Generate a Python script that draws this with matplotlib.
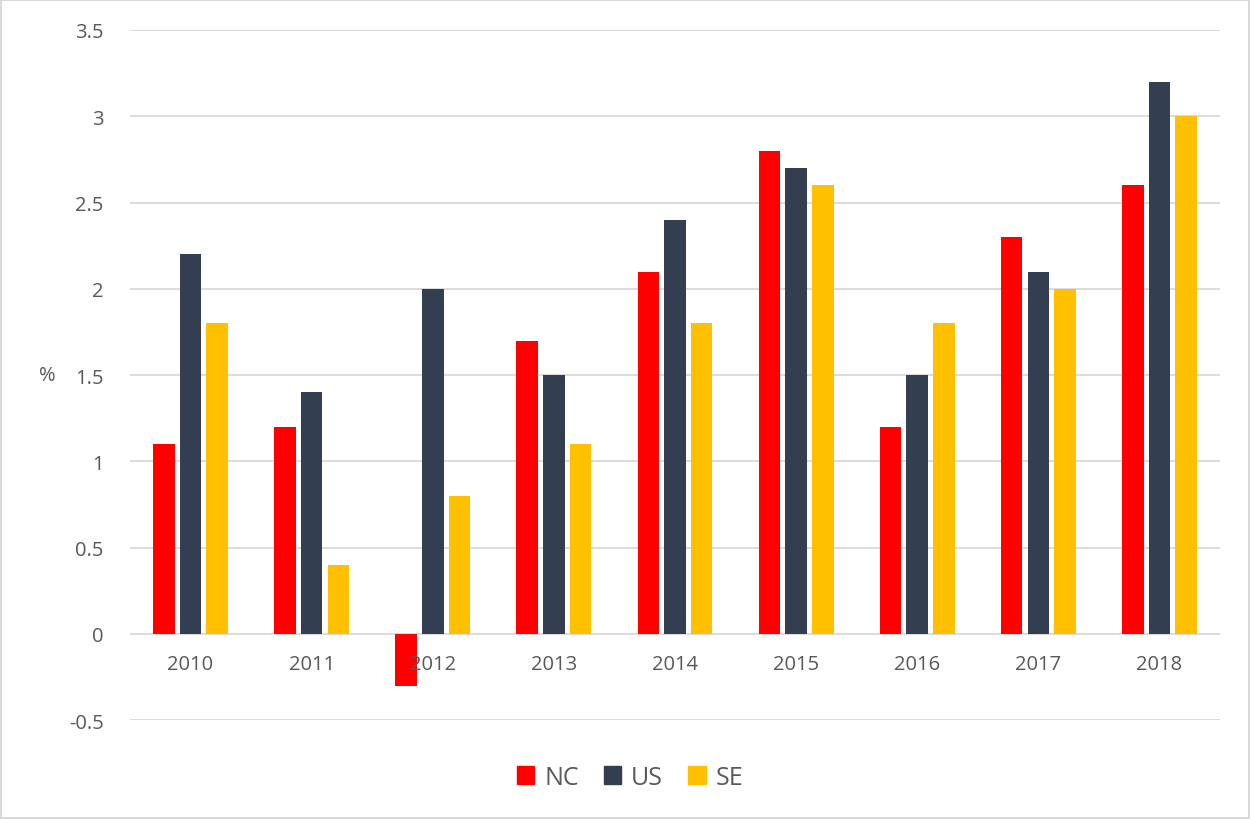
import numpy as np
import matplotlib.pyplot as plt
from matplotlib.patches import Rectangle
from matplotlib.transforms import offset_copy

years = ['2010', '2011', '2012', '2013', '2014', '2015', '2016', '2017', '2018']
nc = [1.1, 1.2, -0.3, 1.7, 2.1, 2.8, 1.2, 2.3, 2.6]
us = [2.2, 1.4, 2.0, 1.5, 2.4, 2.7, 1.5, 2.1, 3.2]
se = [1.8, 0.4, 0.8, 1.1, 1.8, 2.6, 1.8, 2.0, 3.0]

series = [('NC', nc, '#FF0000'), ('US', us, '#333F50'), ('SE', se, '#FFC000')]
yticks = [-0.5, 0, 0.5, 1, 1.5, 2, 2.5, 3, 3.5]

plt.rcParams['font.family'] = ['Open Sans', 'DejaVu Sans']
txt = '#595959'

fig = plt.figure(figsize=(12.5, 8.2), dpi=100)
fig.patch.set_edgecolor('#D9D9D9')
fig.patch.set_linewidth(1.5)
ax = fig.add_axes([0.104, 0.1207, 0.872, 0.8415])

x = np.arange(len(years))
width = 0.178
step = 0.22
for i, (name, vals, color) in enumerate(series):
    ax.bar(x + (i - 1) * step, vals, width, color=color, label=name, zorder=3)

ax.set_xlim(-0.5, len(years) - 0.5)
ax.set_ylim(-0.5, 3.5)
ax.set_yticks(yticks)
ax.set_yticklabels([f'{t:g}' for t in yticks])
ax.tick_params(axis='y', length=0, pad=19, labelsize=14.5, labelcolor=txt)
ax.set_xticks([])
ax.grid(axis='y', color='#D9D9D9', linewidth=1.3, zorder=0)
for s in ax.spines.values():
    s.set_visible(False)

# year labels sit just under the zero line
lab_tr = offset_copy(ax.transData, fig=fig, x=0, y=-30, units='dots')
for xi, yr in zip(x, years):
    ax.text(xi, 0, yr, transform=lab_tr, ha='center', va='center',
            fontsize=14.5, color=txt, zorder=4)

ax.set_ylabel('%', rotation=0, fontsize=14.5, color=txt, va='center', ha='center')
ax.yaxis.set_label_coords(-0.076, 0.5)

handles = [Rectangle((0, 0), 1, 1, color=c) for _, _, c in series]
fig.legend(handles, [n for n, _, _ in series], loc='center',
           bbox_to_anchor=(0.504, 0.051), ncol=3, frameon=False,
           fontsize=18, labelcolor=txt, handlelength=0.7, handleheight=0.7,
           handletextpad=0.4, columnspacing=1.0)

fig.savefig('out.png', dpi=100)
